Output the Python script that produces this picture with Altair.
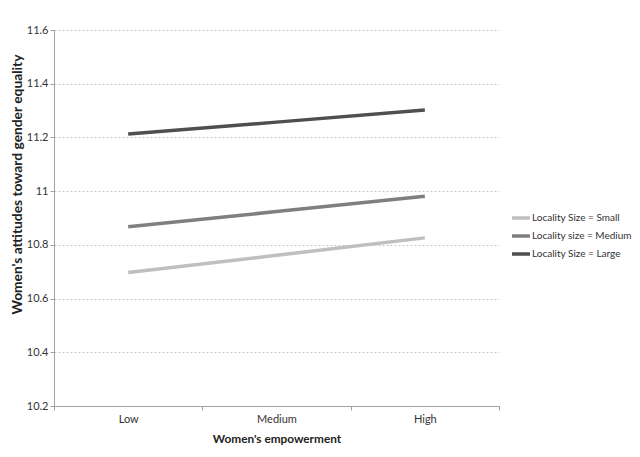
import altair as alt
import pandas as pd

empowerment = ["Low", "Medium", "High"]
series = ["Locality Size = Small", "Locality size = Medium", "Locality Size = Large"]
small = [10.697, 10.761, 10.826]
medium = [10.867, 10.924, 10.981]
large = [11.213, 11.257, 11.302]
colors = ["#bfbfbf", "#7f7f7f", "#4f4f4f"]

rows = []
for name, vals in zip(series, [small, medium, large]):
    for cat, v in zip(empowerment, vals):
        rows.append({"Empowerment": cat, "Series": name, "Value": v})
df = pd.DataFrame(rows)

FONT = "Lato"

chart = alt.Chart(df).mark_line(strokeWidth=3.5, strokeCap="butt").encode(
    x=alt.X("Empowerment:N", sort=empowerment,
            scale=alt.Scale(type="band", paddingInner=0, paddingOuter=0),
            bandPosition=0.5,
            axis=alt.Axis(title="Women's empowerment", tickBand="extent", labelAngle=0,
                          grid=False, domainColor="#a0a0a0", tickColor="#a0a0a0",
                          tickSize=4, labelPadding=3, labelBaseline="top",
                          titleFontSize=11.8, titleY=32, titleBaseline="middle")),
    y=alt.Y("Value:Q", scale=alt.Scale(domain=[10.2, 11.6], nice=False, zero=False),
            axis=alt.Axis(title="Women's attitudes toward gender equality",
                          titleFontSize=13.8, titleX=-37, titleY=154,
                          titleBaseline="middle", titleAlign="center", titleAngle=270,
                          values=[10.2, 10.4, 10.6, 10.8, 11.0, 11.2, 11.4, 11.6],
                          format="~g", grid=True, gridDash=[2, 2], gridColor="#c8c8c8",
                          domainColor="#a0a0a0", tickColor="#a0a0a0", tickSize=4,
                          labelPadding=2)),
    color=alt.Color("Series:N", sort=series,
                    scale=alt.Scale(domain=series, range=colors),
                    legend=alt.Legend(title=None, orient="none", legendX=456, legendY=177,
                                      padding=0, symbolType="stroke", symbolSize=324,
                                      symbolStrokeWidth=3.5, labelOffset=0,
                                      rowPadding=-3, labelFontSize=10, labelLimit=200,
                                      labelFont=FONT, labelColor="#333333")),
).properties(
    width=445, height=376,
    autosize=alt.AutoSizeParams(type="none"),
    padding={"left": 46, "top": 22, "right": 133, "bottom": 43},
).configure_view(stroke=None
).configure_axis(labelFont=FONT, titleFont=FONT, labelFontSize=11, titleFontSize=11,
                 labelColor="#333333", titleColor="#222222", titleFontWeight="bold")

chart.save("out.html", embed_options={"renderer": "svg", "actions": False})
